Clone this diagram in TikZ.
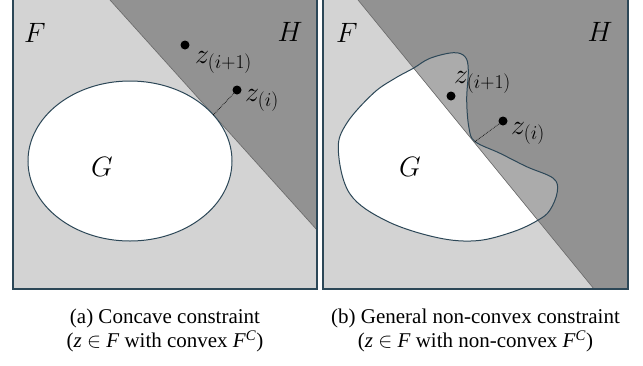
\RequirePackage{fix-cm}
\documentclass[tikz,border=0pt]{standalone}
\usepackage{fontspec}
\setmainfont{Liberation Serif}
\usepackage{tikz}
\definecolor{sheetc}{HTML}{D3D3D3}
\definecolor{halfc}{HTML}{929292}
\definecolor{overlapc}{HTML}{ABABAB}
\definecolor{framec}{HTML}{2C4757}
\definecolor{splitc}{HTML}{6A6A6A}
\tikzset{
  sheet/.style={fill=sheetc},
  frame/.style={draw=framec, line width=1.3pt},
  halfplane/.style={fill=halfc},
  overlap/.style={fill=overlapc},
  split/.style={draw=splitc, line width=0.6pt},
  outline/.style={draw=framec, line width=1pt},
  pt/.style={circle, fill=black, inner sep=0pt, minimum size=9pt},
  setlabel/.style={inner sep=0pt, font=\fontsize{28}{32}\selectfont},
  ptlabel/.style={anchor=west, inner sep=0pt, font=\fontsize{28}{32}\selectfont},
  gap/.style={densely dotted, line width=0.7pt},
  caption/.style={align=center, anchor=north, inner sep=0pt, font=\fontsize{21}{24}\selectfont},
}
\newcommand{\blobpath}{plot[smooth cycle, tension=0.6] coordinates {(413.3,68.3) (430,58.3) (453.3,52.7) (465,56.7) (468.3,70) (466.7,100) (469,128) (475,141.5) (500,153.3) (526.7,166.7) (553.3,178.3) (557.3,191.7) (550,210) (538.3,220) (513.3,231.7) (476.7,240.7) (436.7,237.5) (386.7,221) (350,194) (338.3,150) (346.7,123.3) (373.3,93.3) (395,78.3)}}

\begin{document}
\begin{tikzpicture}[x=1pt,y=-1pt]
\useasboundingbox (0,0) rectangle (643,365);
\fill[sheet] (13,-2) rectangle (317,289);
\fill[halfplane] (108.2,-2) -- (317,-2) -- (317,230) -- cycle;
\draw[split] (108.2,-2) -- (317,230);
\filldraw[outline, fill=white] (130,161) ellipse [x radius=102pt, y radius=80pt];
\draw[frame] (13,-2) rectangle (317,289);
\node[setlabel] (fa) at (35,33) {$F$};
\node[setlabel] (ha) at (290,32) {$H$};
\node[setlabel] (ga) at (102,167) {$G$};
\coordinate (ta) at (213.3,114.9);
\node[pt] (zia) at (237,90) {};
\node[pt] (zja) at (185,45) {};
\draw[gap] (ta) -- (zia);
\node[ptlabel] (lzia) at (245,100) {$z_{(i)}$};
\node[ptlabel] (lzja) at (195,62) {$z_{(i+1)}$};
\node[caption] (capa) at (165,309) {(a) Concave constraint\\(\textit{z} $\in$ \textit{F} with convex \textit{F}\textsuperscript{\textit{C}})};

\fill[sheet] (323,-2) rectangle (628,289);
\fill[white] \blobpath;
\fill[halfplane] (356.4,-2) -- (628,-2) -- (628,289) -- (594,289) -- cycle;
\begin{scope}
\clip \blobpath;
\fill[overlap] (356.4,-2) -- (628,-2) -- (628,289) -- (594,289) -- cycle;
\end{scope}
\draw[split] (356.4,-2) -- (594,289);
\draw[outline] \blobpath;
\draw[frame] (323,-2) rectangle (628,289);
\node[setlabel] (fb) at (347,33) {$F$};
\node[setlabel] (hb) at (600,32) {$H$};
\node[setlabel] (gb) at (410,167) {$G$};
\coordinate (tb) at (475,141.5);
\node[pt] (zib) at (503,121) {};
\node[pt] (zjb) at (451,96) {};
\draw[gap] (tb) -- (zib);
\node[ptlabel] (lzib) at (511,133) {$z_{(i)}$};
\node[ptlabel] (lzjb) at (454,82) {$z_{(i+1)}$};
\node[caption] (capb) at (475.5,309) {(b) General non-convex constraint\\(\textit{z} $\in$ \textit{F} with non-convex \textit{F}\textsuperscript{\textit{C}})};
\end{tikzpicture}
\end{document}
